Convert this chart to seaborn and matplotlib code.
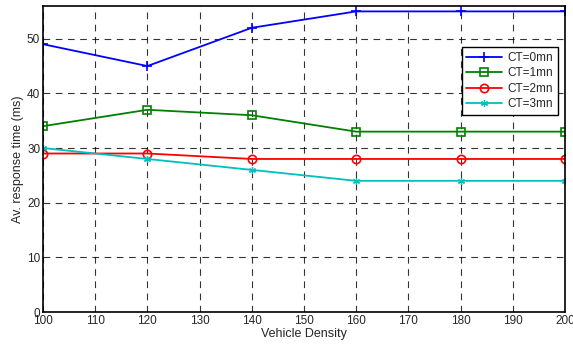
import matplotlib
matplotlib.use("Agg")
import matplotlib.pyplot as plt
import seaborn as sns
import pandas as pd

density = [100, 120, 140, 160, 180, 200]
ct0 = [49, 45, 52, 55, 55, 55]
ct1 = [34, 37, 36, 33, 33, 33]
ct2 = [29, 29, 28, 28, 28, 28]
ct3 = [30, 28, 26, 24, 24, 24]
labels = ["CT=0mn", "CT=1mn", "CT=2mn", "CT=3mn"]
colors = ["#0000ff", "#008000", "#ff0000", "#00bfbf"]
markers = ["+", "s", "o", (6, 2, 0)]
sizes = [7, 6, 6, 5]
edgew = [1.2, 1.2, 1.2, 0.9]

sns.set_theme(style="white")
plt.rcParams['font.family'] = ['Liberation Sans', 'DejaVu Sans']

rows = []
for lab, vals in zip(labels, [ct0, ct1, ct2, ct3]):
    for x, y in zip(density, vals):
        rows.append({"density": x, "time": y, "series": lab})
df = pd.DataFrame(rows)

fig = plt.figure(figsize=(5.73, 3.49), dpi=100)
ax = fig.add_axes([0.075, 0.106, 0.911, 0.877])

for lab, c, m, s, ew in zip(labels, colors, markers, sizes, edgew):
    sub = df[df.series == lab]
    sns.lineplot(data=sub, x="density", y="time", ax=ax, color=c, marker=m,
                 markersize=s, markerfacecolor="none", markeredgecolor=c,
                 markeredgewidth=ew, linewidth=1.3, label=lab)

ax.set_xlim(100, 200)
ax.set_ylim(0, 56)
ax.set_xticks(range(100, 201, 10))
ax.set_yticks(range(0, 51, 10))
ax.grid(True, color="black", linestyle=(0, (6, 5)), linewidth=0.8, alpha=0.8)
ax.tick_params(direction="in", length=4, labelsize=8.5, color="black", pad=2)
for sp in ax.spines.values():
    sp.set_color("black")
    sp.set_linewidth(1.2)
ax.set_xlabel("Vehicle Density", fontsize=9, labelpad=1)
ax.set_ylabel("Av. response time (ms)", fontsize=9, labelpad=2)

leg = ax.legend(loc="upper right", bbox_to_anchor=(0.998, 0.885), fontsize=8.5,
                frameon=True, fancybox=False, edgecolor="black", framealpha=1,
                handlelength=3, borderpad=0.4, labelspacing=0.3, handletextpad=0.5)
leg.get_frame().set_linewidth(1.0)

fig.savefig("out.png", dpi=100)
